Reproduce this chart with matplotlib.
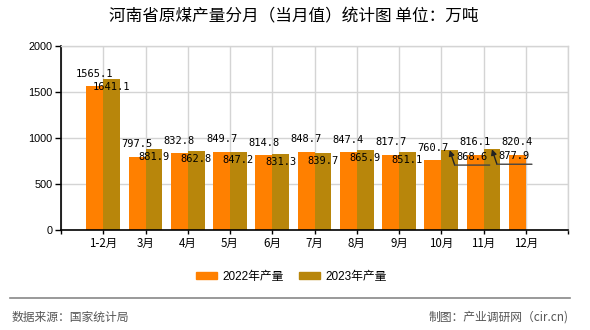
import matplotlib
matplotlib.use("Agg")
import matplotlib.pyplot as plt
from matplotlib.transforms import ScaledTranslation
import numpy as np

plt.rcParams['font.family'] = ['Noto Sans CJK SC', 'DejaVu Sans']

months = ["1-2月", "3月", "4月", "5月", "6月", "7月", "8月", "9月", "10月", "11月", "12月"]
prod_2022 = [1565.1, 797.5, 832.8, 849.7, 814.8, 848.7, 847.4, 817.7, 760.7, 816.1, 820.4]
prod_2023 = [1641.1, 881.9, 862.8, 847.2, 831.3, 839.7, 865.9, 851.1, 868.6, 877.9]
series_names = ["2022年产量", "2023年产量"]
y_ticks = [0, 500, 1000, 1500, 2000]
# 2023 labels that are moved aside with a leader arrow
leader_months = ["10月", "11月"]

c22 = "#FF8000"
c23 = "#B8860B"
PX = 0.72  # points per pixel at 100 dpi

fig = plt.figure(figsize=(5.9, 3.3), dpi=100)
ax = fig.add_axes([61 / 590, 1 - 230 / 330, 507 / 590, 184 / 330])

pos = np.arange(1, len(months) + 1)
w = 0.4
ax.bar(pos[:len(prod_2022)] - w / 2, prod_2022, width=w, color=c22, zorder=2)
ax.bar(pos[:len(prod_2023)] + w / 2, prod_2023, width=w, color=c23, zorder=2)

ax.set_xlim(0, 12)
ax.set_ylim(0, 2000)
ax.set_yticks(y_ticks)
ax.set_yticklabels([str(t) for t in y_ticks], family=['Liberation Sans', 'DejaVu Sans'], fontsize=7.8)
ax.set_xticks(np.arange(0, 13))
ax.set_xticklabels([""] + months + [""], fontsize=8.3)
ax.tick_params(axis='y', length=4.5, width=1, pad=1.5, color='black')
ax.tick_params(axis='x', length=3, width=1, pad=2, color='black')

ax.grid(True, color="#d4d4d4", linewidth=1, zorder=0)
ax.set_axisbelow(True)
for s in ("top", "right"):
    ax.spines[s].set_color("#d4d4d4")
    ax.spines[s].set_linewidth(1)
for s in ("left", "bottom"):
    ax.spines[s].set_color("black")
    ax.spines[s].set_linewidth(1.2)

lab_font = dict(family=['DejaVu Sans Mono'], fontsize=7.5, color="black")

for p, v in zip(pos, prod_2022):
    ax.annotate(f"{v:.1f}", xy=(p - w / 2, v), xytext=(0, 12.5 * PX),
                textcoords="offset points", ha="center", va="center", zorder=5, **lab_font)

for m, p, v in zip(months, pos, prod_2023):
    x = p + w / 2
    if m in leader_months:
        ax.annotate(f"{v:.1f}", xy=(x, v), xytext=(22 * PX, -7 * PX),
                    textcoords="offset points", ha="center", va="center", zorder=5, **lab_font)
        bend = ax.transData + ScaledTranslation(5 / 100, -15 / 100, fig.dpi_scale_trans)
        ax.annotate("", xy=(x, v), xycoords="data",
                    xytext=(x, v), textcoords=bend,
                    arrowprops=dict(arrowstyle="-|>", color="#222222", lw=1,
                                    shrinkA=0, shrinkB=0, mutation_scale=8), zorder=6)
        ax.annotate("", xy=(x, v), xycoords=bend,
                    xytext=(35 * PX, 0), textcoords="offset points",
                    arrowprops=dict(arrowstyle="-", color="#444444", lw=1,
                                    shrinkA=0, shrinkB=0), zorder=6)
    else:
        ax.annotate(f"{v:.1f}", xy=(x, v), xytext=(0, -8 * PX),
                    textcoords="offset points", ha="center", va="center", zorder=5, **lab_font)

fig.text(0.498, 1 - 17 / 330, "河南省原煤产量分月（当月值）统计图 单位：万吨",
         ha="center", va="center", fontsize=12, fontweight="medium", color="#000000")

handles = [plt.Rectangle((0, 0), 1, 1, color=c22), plt.Rectangle((0, 0), 1, 1, color=c23)]
fig.legend(handles, series_names, loc="center", bbox_to_anchor=(0.494, 1 - 277 / 330),
           ncol=2, frameon=False, handlelength=1.75, handleheight=0.55,
           handletextpad=0.5, columnspacing=1.3,
           prop=dict(family=['Liberation Sans', 'Noto Sans CJK SC'], size=8.5))

fig.add_artist(plt.Line2D([10 / 590, 570 / 590], [1 - 298 / 330] * 2,
                          transform=fig.transFigure, color="#888888", lw=1.2))
fig.text(12 / 590, 1 - 317 / 330, "数据来源：国家统计局", ha="left", va="center",
         fontsize=8.5, color="#555555")
fig.text(569 / 590, 1 - 317 / 330, "制图：产业调研网（cir.cn)", ha="right", va="center",
         fontsize=8.5, color="#555555")

fig.savefig("out.png", dpi=100)
